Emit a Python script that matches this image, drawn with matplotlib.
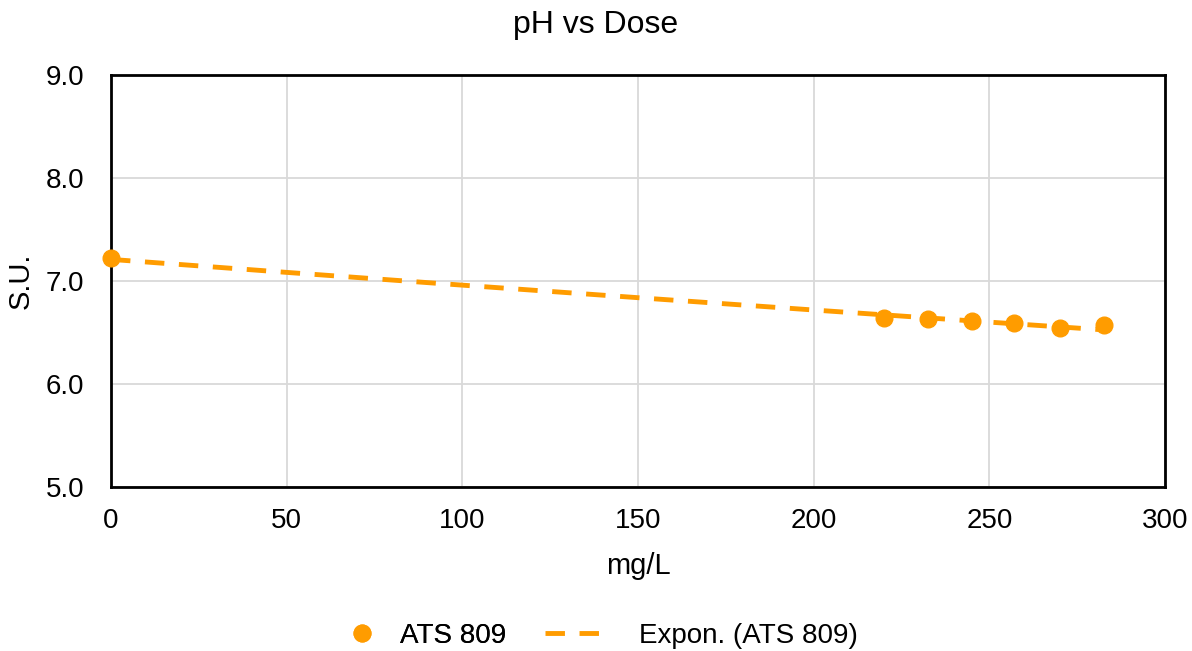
import numpy as np
import matplotlib
matplotlib.use("Agg")
import matplotlib.pyplot as plt

plt.rcParams['font.family'] = ['Liberation Sans', 'DejaVu Sans']

dose = [0, 220, 232.5, 245, 257, 270, 282.5]
ph = [7.22, 6.64, 6.63, 6.61, 6.59, 6.54, 6.57]
xticks = [0, 50, 100, 150, 200, 250, 300]
yticks = [5.0, 6.0, 7.0, 8.0, 9.0]
color = '#FF9C00'

W, H = 1192, 651
fig = plt.figure(figsize=(W/100, H/100), dpi=100)
ax = fig.add_axes([111/W, 1-487/H, (1165-111)/W, (487-75)/H])

x = np.array(dose); y = np.array(ph)
b, lna = np.polyfit(x, np.log(y), 1)
xf = np.linspace(x.min(), x.max(), 200)
yf = np.exp(lna) * np.exp(b * xf)

pts, = ax.plot(x, y, 'o', color=color, markersize=12, label='ATS 809', zorder=3, clip_on=False)
trend, = ax.plot(xf, yf, '--', color=color, lw=3.5, dashes=(4, 3), label='Expon. (ATS 809)', zorder=2)

ax.set_xlim(0, 300)
ax.set_ylim(5, 9)
ax.set_xticks(xticks)
ax.set_yticks(yticks)
ax.set_yticklabels([f'{v:.1f}' for v in yticks])
ax.grid(True, color='#D9D9D9', lw=1.3)
ax.set_axisbelow(True)
for s in ax.spines.values():
    s.set_color('black'); s.set_linewidth(2)
ax.tick_params(length=0, labelsize=20)
ax.tick_params(axis='x', pad=15)
ax.tick_params(axis='y', pad=19)
ax.set_xlabel('mg/L', fontsize=21, labelpad=13)
ax.set_ylabel('S.U.', fontsize=21, labelpad=8)
fig.text(0.5, 1-25/H, 'pH vs Dose', fontsize=23, ha='center', va='center')

ly = 1 - 636/H
l1 = fig.legend(handles=[pts], loc='center left', bbox_to_anchor=(348/W, ly), frameon=False,
                fontsize=20, handlelength=1.0, handletextpad=0.86, borderpad=0, borderaxespad=0)
fig.add_artist(l1)
fig.legend(handles=[trend], loc='center left', bbox_to_anchor=(545/W, ly), frameon=False,
           fontsize=20, handlelength=2.0, handletextpad=1.4, borderpad=0, borderaxespad=0)
fig.savefig('out.png', dpi=100)
